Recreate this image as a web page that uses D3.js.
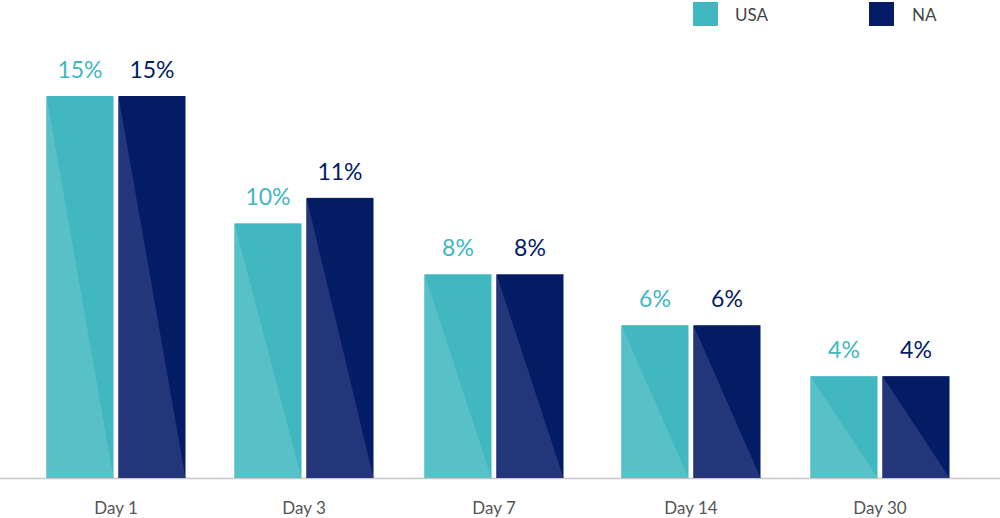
<!DOCTYPE html>
<html><head><meta charset="utf-8">
<script src="https://cdn.jsdelivr.net/npm/d3@7"></script>
<style>body{margin:0;background:#fff}svg{font-family:Lato,"Open Sans",sans-serif}</style>
</head><body><div id="mount"></div>
<script>
const days = ['Day 1', 'Day 3', 'Day 7', 'Day 14', 'Day 30'];
const usa = [15, 10, 8, 6, 4];
const na = [15, 11, 8, 6, 4];
const series = [
  { name: 'USA', values: usa, color: '#41b7bf', light: '#58c1c7', text: '#41b7bf' },
  { name: 'NA', values: na, color: '#041b66', light: '#233679', text: '#041b66' }
];

const W = 1000, H = 518, base = 478;
const svg = d3.select('#mount').append('svg').attr('width', W).attr('height', H);

const x = d3.scalePoint().domain(days).range([116, 880]);
const xc = [116, 304, 494, 691, 880];
const y = d3.scaleLinear().domain([0, 15]).range([base, 96]);
const bw = 67, gap = 5;

svg.append('line').attr('x1', 0).attr('x2', W).attr('y1', base + 0.5).attr('y2', base + 0.5)
  .attr('stroke', '#c8c8c8').attr('stroke-width', 1.5);

series.forEach((s, si) => {
  const g = svg.append('g');
  s.values.forEach((v, i) => {
    const cx = xc[i];
    const x0 = si === 0 ? cx - gap / 2 - bw : cx + gap / 2;
    const top = y(v);
    g.append('rect').attr('x', x0).attr('y', top).attr('width', bw).attr('height', base - top).attr('fill', s.color);
    g.append('path').attr('d', `M${x0},${top}L${x0},${base}L${x0 + bw},${base}Z`).attr('fill', s.light);
    g.append('text').attr('x', x0 + bw / 2).attr('y', top - 18).attr('text-anchor', 'middle')
      .attr('font-size', 23).attr('fill', s.text).text(v + '%');
  });
});

svg.selectAll('.day').data(days).join('text')
  .attr('x', (d, i) => xc[i]).attr('y', 514).attr('text-anchor', 'middle')
  .attr('font-size', 17).attr('fill', '#555').text(d => d);

const leg = [{ x: 693, tx: 735 }, { x: 869, tx: 912 }];
series.forEach((s, i) => {
  svg.append('rect').attr('x', leg[i].x).attr('y', 2).attr('width', 25).attr('height', 24).attr('fill', s.color);
  svg.append('text').attr('x', leg[i].tx).attr('y', 21).attr('font-size', 17).attr('fill', '#444').text(s.name);
});
</script></body></html>
